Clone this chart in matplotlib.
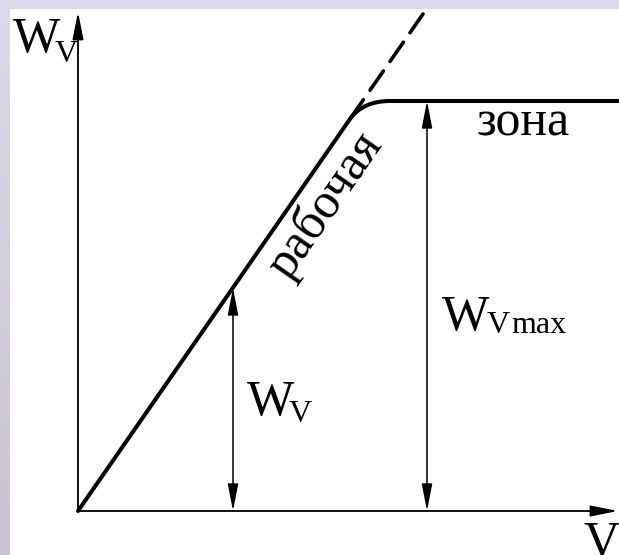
"""
Speed characteristic W_V(V): working zone and saturation zone
"""

import matplotlib.pyplot as plt
import numpy as np
from matplotlib.patches import FancyArrowPatch, PathPatch, ArrowStyle
from matplotlib.path import Path

plt.rcParams['font.family'] = ['Liberation Serif', 'DejaVu Serif']

# данные (в пикселях исходной картинки, начало координат в нуле осей)
work_x = [0, 272]          # рабочая (линейная) часть
work_y = [0, 392]
knee_x = [285, 312]        # скругление перед насыщением
knee_y = [410, 410]
sat_x = [312, 541]         # зона насыщения
sat_y = [410, 410]
dash_x = [272, 345]        # продолжение линейной части
dash_y = [392, 497]
v_axis_end = 540
w_axis_end = 499
wv_x, wv_y = 155, 223      # стрелка W_V
wmax_x, wmax_y = 349, 410  # стрелка W_V max

fig = plt.figure(figsize=(6.19, 5.55), dpi=100)

# фон с градиентом
bg = fig.add_axes([0, 0, 1, 1])
grad = np.linspace(0, 1, 256).reshape(-1, 1)
top_c = np.array([0xde, 0xd9, 0xe8]) / 255
bot_c = np.array([0xc8, 0xc2, 0xd1]) / 255
img = top_c + grad[..., None] * (bot_c - top_c)
bg.imshow(img, aspect='auto', extent=[0, 1, 0, 1])
bg.set_axis_off()

ax = fig.add_axes([10 / 619, 0, 609 / 619, 546 / 555])
ax.set_facecolor('white')
ax.set_xlim(-68, 541)
ax.set_ylim(-44, 502)
for s in ax.spines.values():
    s.set_visible(False)
ax.set_xticks([])
ax.set_yticks([])

# оси
head = ArrowStyle('-|>', head_length=16.5, head_width=3.3)
ax.add_patch(FancyArrowPatch((0, 0), (v_axis_end, 0), arrowstyle=head,
                             mutation_scale=1, lw=1.3, color='k',
                             shrinkA=0, shrinkB=0))
ax.add_patch(FancyArrowPatch((0, 0), (0, w_axis_end), arrowstyle=head,
                             mutation_scale=1, lw=1.3, color='k',
                             shrinkA=0, shrinkB=0))

# характеристика
verts = [(work_x[0], work_y[0]), (work_x[1], work_y[1]),
         (knee_x[0], knee_y[0]), (knee_x[1], knee_y[1]),
         (sat_x[1], sat_y[1])]
codes = [Path.MOVETO, Path.LINETO, Path.CURVE3, Path.CURVE3, Path.LINETO]
ax.add_patch(PathPatch(Path(verts, codes), fill=False, lw=2.9, color='k',
                       capstyle='round', joinstyle='round', zorder=3))
ax.plot(dash_x, dash_y, color='k', lw=2.6, dashes=(6.5, 3.2),
        dash_capstyle='round', zorder=3)

# двусторонние стрелки
dbl = ArrowStyle('<|-|>', head_length=16.5, head_width=3.2)
for x, y in [(wv_x, wv_y), (wmax_x, wmax_y)]:
    ax.add_patch(FancyArrowPatch((x, 0), (x, y), arrowstyle=dbl,
                                 mutation_scale=1, lw=1.1, color='k',
                                 shrinkA=0, shrinkB=0))

# подписи
big, small = 36, 23
ax.text(-65, 459, 'W', fontsize=big)
ax.text(-23, 449, 'V', fontsize=small)
ax.text(505, -45, 'V', fontsize=big)
ax.text(399, 376, 'зона', fontsize=big)
ax.text(247, 306, 'рабочая', fontsize=big, rotation=55.2,
        rotation_mode='anchor', ha='center', va='center')
ax.text(169, 96, 'W', fontsize=big)
ax.text(211, 89, 'V', fontsize=small)
ax.text(364, 181, 'W', fontsize=big)
ax.text(409, 178, 'V', fontsize=small)
ax.text(433, 178, 'max', fontsize=small)

plt.savefig('out.png', dpi=100)
